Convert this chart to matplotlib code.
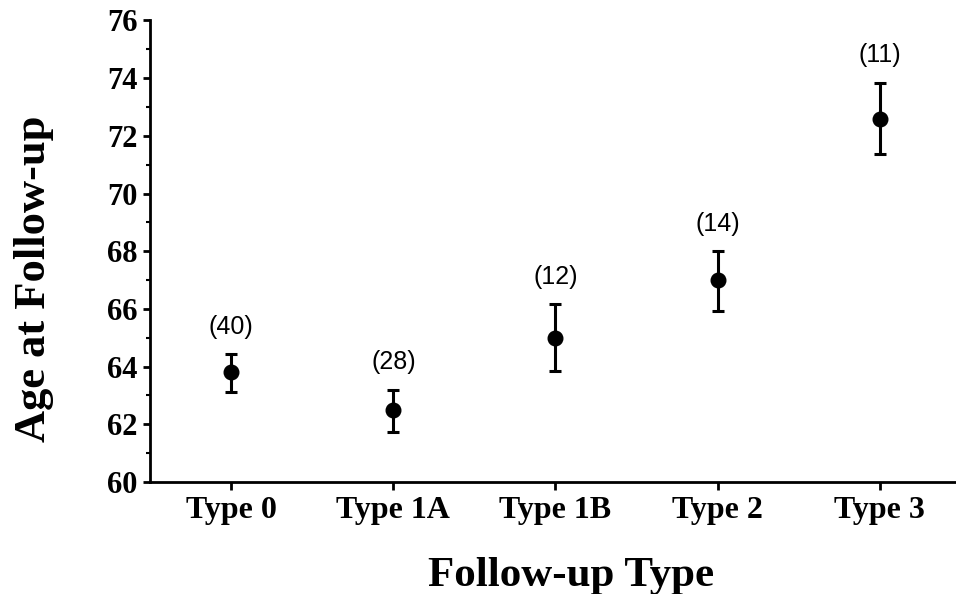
import matplotlib.pyplot as plt
import numpy as np

types = ['Type 0', 'Type 1A', 'Type 1B', 'Type 2', 'Type 3']
mean_age = [63.8, 62.5, 65.0, 67.0, 72.6]
err_lo = [0.68, 0.76, 1.14, 1.08, 1.24]
err_hi = [0.62, 0.70, 1.16, 1.00, 1.24]
counts = [40, 28, 12, 14, 11]

x = np.arange(len(types))

fig = plt.figure(figsize=(9.56, 5.94), dpi=100)
ax = fig.add_axes([0.157, 0.1886, 0.843, 0.777])

ax.errorbar(x, mean_age, yerr=[err_lo, err_hi], fmt='o', color='black',
            markersize=10.5, elinewidth=2.2, capsize=4.5, capthick=2.2)

for xi, m, e, n in zip(x, mean_age, err_hi, counts):
    ax.annotate('(%d)' % n, (xi, m + e), xytext=(0, 11), textcoords='offset points',
                ha='center', va='bottom', fontsize=18, family='Liberation Sans')

ax.set_xlim(-0.5, 4.47)
ax.set_ylim(60, 76)
ax.set_yticks(np.arange(60, 77, 2))
ax.set_yticks(np.arange(61, 76, 2), minor=True)
ax.set_xticks(x)
ax.set_xticklabels(types)

for s in ['top', 'right']:
    ax.spines[s].set_visible(False)
for s in ['left', 'bottom']:
    ax.spines[s].set_linewidth(2)

ax.tick_params(axis='y', which='major', length=5, width=2, labelsize=22, pad=4)
ax.tick_params(axis='y', which='minor', length=3, width=1.5)
ax.tick_params(axis='x', length=6, width=2, labelsize=23, pad=4)
for lab in ax.get_xticklabels() + ax.get_yticklabels():
    lab.set_family('Liberation Serif')
    lab.set_fontweight('bold')

ax.set_xlabel('Follow-up Type', family='Liberation Serif', fontweight='bold',
              fontsize=31, labelpad=23)
ax.set_ylabel('Age at Follow-up', family='Liberation Serif', fontweight='bold',
              fontsize=32, labelpad=38)
ax.xaxis.label.set_x(0.522)
ax.yaxis.label.set_y(0.44)

fig.savefig('out.png', dpi=100)
